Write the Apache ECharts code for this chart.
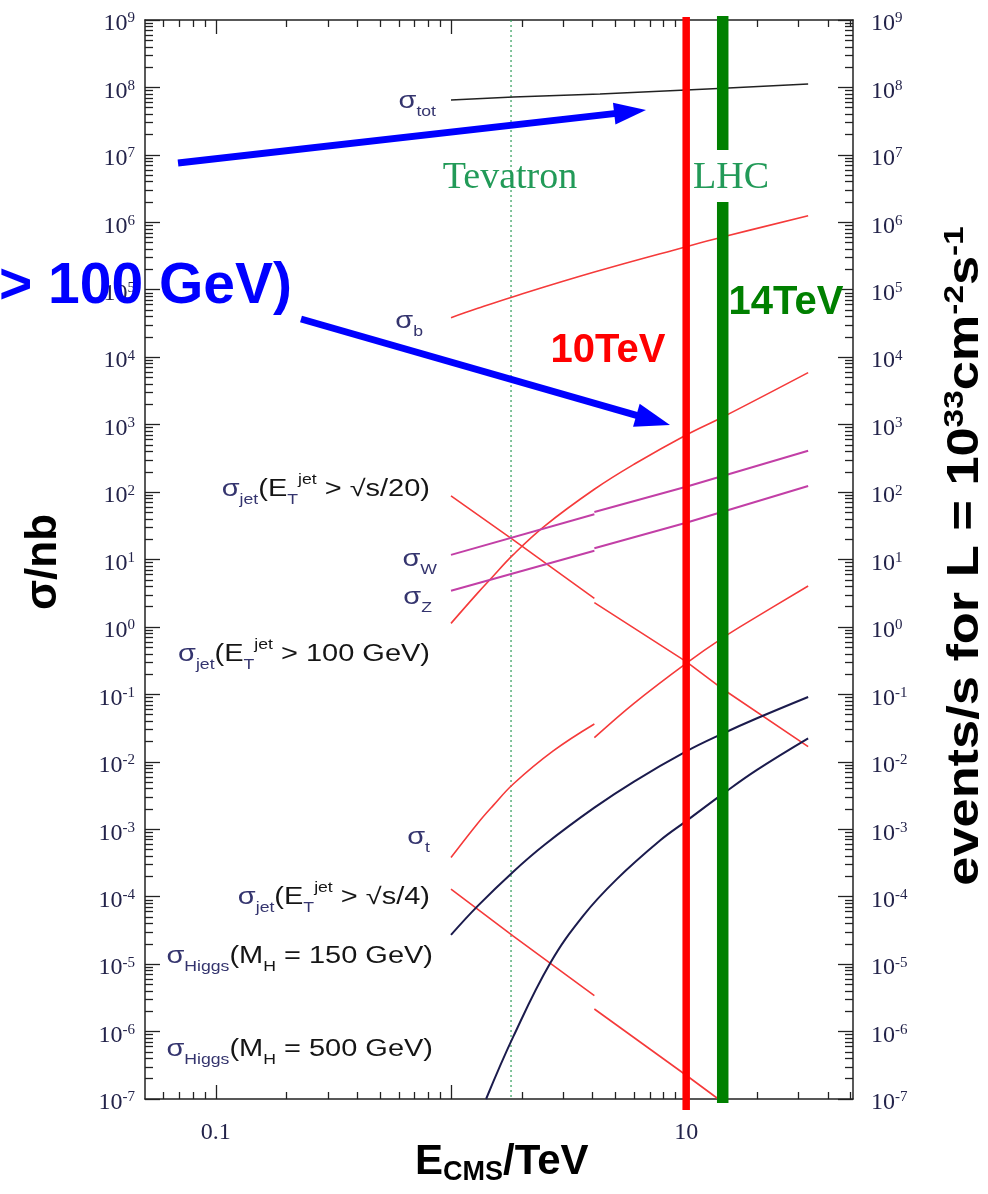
<!DOCTYPE html>
<html><head><meta charset="utf-8">
<script src="https://cdn.jsdelivr.net/npm/echarts@6/dist/echarts.min.js"></script>
<style>html,body{margin:0;padding:0;background:#fff}#c{width:988px;height:1194px}</style>
</head><body><div id="c"></div>
<script>
// ---- axis ranges / ticks ----
const X_MIN = 0.05, X_MAX = 51.2, Y_MIN = 1e-7, Y_MAX = 1e9;
const xMajorTicks = [0.1, 1, 10];
const xMinorTicks = [0.06,0.07,0.08,0.09,0.2,0.3,0.4,0.5,0.6,0.7,0.8,0.9,2,3,4,5,6,7,8,9,20,30,40,50];
const xTickLabels = [0.1, 10];
const yExponents = [-7,-6,-5,-4,-3,-2,-1,0,1,2,3,4,5,6,7,8,9];
const yMinorMultipliers = [2,3,4,5,6,7,8,9];
const E_TEVATRON = 1.8, E_10TEV = 10, E_LHC = 14.3;

// ---- curves: [E (TeV), sigma (nb)] ----
const sigmaTot      = [[1.0,6.5e7],[1.84,7.2e7],[4.3,8.0e7],[10,9.2e7],[14.4,9.7e7],[33,1.12e8]];
const sigmaB        = [[1.0,3.85e4],[1.3,5.3e4],[1.84,7.9e4],[4.07,1.83e5],[10,4.35e5],[14.4,6.1e5],[33,1.25e6]];
const sigmaJet100   = [[1.0,1.13],[1.3,3.2],[1.47,5.1],[1.84,11.8],[2.5,31.3],[4.07,110],[6,258],[10,702],[14.4,1310],[33,5900]];
const sigmaJet20_ppbar = [[1.0,88],[1.84,19.5],[4.07,2.66]];
const sigmaJet20_pp    = [[4.07,2.29],[10,0.306],[14.4,0.118],[33,0.0168]];
const sigmaW_ppbar  = [[1.0,11.7],[4.07,46.9]];
const sigmaW_pp     = [[4.07,50.7],[10,120],[14.4,175],[33,411]];
const sigmaZ_ppbar  = [[1.0,3.45],[4.07,13.5]];
const sigmaZ_pp     = [[4.07,14.7],[10,35],[33,123]];
const sigmaT_ppbar  = [[1.0,3.8e-4],[1.3,1.23e-3],[1.51,2.24e-3],[1.84,4.69e-3],[2.72,0.0145],[4.07,0.0364]];
const sigmaT_pp     = [[4.07,0.0228],[6,0.0738],[10,0.289],[14.4,0.70],[20,1.42],[33,4.05]];
const sigmaJet4_ppbar = [[1.0,1.29e-4],[1.84,2.6e-5],[4.07,3.4e-6]];
const sigmaJet4_pp    = [[4.07,2.16e-6],[10,2.25e-7],[13.7,1e-7]];
const sigmaH150     = [[1.0,2.71e-5],[1.3,7.3e-5],[1.84,2.35e-4],[2.5,5.89e-4],[4.07,2.09e-3],[6,5.1e-3],[10,0.01426],[14.4,0.0265],[20,0.0442],[33,0.0914]];
const sigmaH500     = [[1.41,1e-7],[1.84,8.4e-7],[2.64,1.03e-5],[3.66,5.28e-5],[5.07,1.82e-4],[7.74,6.8e-4],[10,1.32e-3],[14.4,3.4e-3],[20,7.6e-3],[33,0.0223]];

const RED = '#f53a3a', MAG = '#c23fa6', NAVY = '#1b1b4d', BLK = '#222222';
const curves = [
  [sigmaTot, BLK, 1.5, 0], [sigmaB, RED, 1.6, 0.4], [sigmaJet100, RED, 1.6, 0.4],
  [sigmaJet20_ppbar, RED, 1.6, 0], [sigmaJet20_pp, RED, 1.6, 0],
  [sigmaW_ppbar, MAG, 2, 0], [sigmaW_pp, MAG, 2, 0],
  [sigmaZ_ppbar, MAG, 2, 0], [sigmaZ_pp, MAG, 2, 0],
  [sigmaT_ppbar, RED, 1.6, 0.4], [sigmaT_pp, RED, 1.6, 0.4],
  [sigmaJet4_ppbar, RED, 1.6, 0], [sigmaJet4_pp, RED, 1.6, 0],
  [sigmaH150, NAVY, 2, 0.4], [sigmaH500, NAVY, 2, 0.4]
];

const yMajorTicks = yExponents.map(e => Math.pow(10, e));
const yMinorTicks = [];
yExponents.slice(0, -1).forEach(e => yMinorMultipliers.forEach(m => yMinorTicks.push(m * Math.pow(10, e))));

const AX = '#222222', LBL = '#23234a';
const tickLine = {color: AX, width: 1.3};
const yLabelRich = {
  b: {fontSize: 24, fontFamily: 'Liberation Serif', color: LBL, lineHeight: 26},
  e: {fontSize: 15, fontFamily: 'Liberation Serif', color: LBL, lineHeight: 15, verticalAlign: 'top'}
};
function yFmt(v) { return '{b|10}{e|' + Math.round(Math.log10(v)) + '}'; }

function xAxisDef(pos, major, withLabels, withLine) {
  return {
    type: 'log', min: X_MIN, max: X_MAX, position: pos, gridIndex: 0,
    axisLine: {show: withLine, lineStyle: {color: AX, width: 1.5}},
    axisTick: {show: true, inside: true, length: major ? 14 : 7, customValues: major ? xMajorTicks : xMinorTicks, lineStyle: tickLine},
    minorTick: {show: false}, splitLine: {show: false},
    axisLabel: withLabels ? {show: true, customValues: xTickLabels, margin: 22,
      formatter: v => (v < 1 ? v.toFixed(1) : String(Math.round(v))),
      fontFamily: 'Liberation Serif', fontSize: 24, color: LBL} : {show: false}
  };
}
function yAxisDef(pos, major, withLabels, withLine) {
  return {
    type: 'log', min: Y_MIN, max: Y_MAX, position: pos, gridIndex: 0,
    axisLine: {show: withLine, lineStyle: {color: AX, width: 1.5}},
    axisTick: {show: true, inside: true, length: major ? 15 : 8, customValues: major ? yMajorTicks : yMinorTicks, lineStyle: tickLine},
    minorTick: {show: false}, splitLine: {show: false},
    axisLabel: withLabels ? {show: true, customValues: yMajorTicks, margin: pos === 'left' ? 10 : 18,
      formatter: yFmt, rich: yLabelRich, padding: [8, 0, 0, 0]} : {show: false}
  };
}

const chart = echarts.init(document.getElementById('c'), null, {renderer: 'canvas'});
chart.setOption({
  animation: false,
  backgroundColor: '#ffffff',
  grid: {left: 145, right: 135, top: 20, bottom: 95, containLabel: false},
  xAxis: [xAxisDef('bottom', true, true, true), xAxisDef('bottom', false, false, false),
          xAxisDef('top', true, false, true), xAxisDef('top', false, false, false)],
  yAxis: [yAxisDef('left', true, true, true), yAxisDef('left', false, false, false),
          yAxisDef('right', true, true, true), yAxisDef('right', false, false, false)],
  series: curves.map(c => ({
    type: 'line', xAxisIndex: 0, yAxisIndex: 0, data: c[0], showSymbol: false, symbol: 'none',
    smooth: c[3], clip: true, lineStyle: {color: c[1], width: c[2]}, z: 3
  }))
});

// ---- annotations ----
const px = e => chart.convertToPixel({xAxisIndex: 0}, e);
const yTop = chart.convertToPixel({yAxisIndex: 0}, Y_MAX);
const yBot = chart.convertToPixel({yAxisIndex: 0}, Y_MIN);
const xTev = px(E_TEVATRON), x10 = px(E_10TEV), xLhc = px(E_LHC);

const SIG = '#34346e', TXT = '#151515';
const R = {
  s: {fontSize: 23, fontFamily: 'Liberation Sans', fill: SIG, lineHeight: 34},
  sb: {fontSize: 14, fontFamily: 'Liberation Sans', fill: SIG, lineHeight: 14, verticalAlign: 'bottom'},
  t: {fontSize: 23, fontFamily: 'Liberation Sans', fill: TXT, lineHeight: 34},
  tb: {fontSize: 14, fontFamily: 'Liberation Sans', fill: TXT, lineHeight: 14, verticalAlign: 'bottom'},
  sp: {fontSize: 14, fontFamily: 'Liberation Sans', fill: TXT, lineHeight: 14, verticalAlign: 'top'}
};
function lbl(right, cy, text) {
  return {type: 'text', x: right, y: cy, scaleX: 1.26, z: 10,
    style: {text: text, align: 'right', verticalAlign: 'middle', rich: R, font: '23px "Liberation Sans"'}};
}
function arrow(x1, y1, x2, y2, hl, hw) {
  const dx = x2 - x1, dy = y2 - y1, L = Math.hypot(dx, dy), ux = dx / L, uy = dy / L;
  const bx = x2 - ux * hl, by = y2 - uy * hl;
  return [
    {type: 'line', z: 20, shape: {x1: x1, y1: y1, x2: bx + ux * 2, y2: by + uy * 2}, style: {stroke: '#0000ff', lineWidth: 7}},
    {type: 'polygon', z: 20, shape: {points: [[x2, y2], [bx - uy * hw, by + ux * hw], [bx + uy * hw, by - ux * hw]]}, style: {fill: '#0000ff'}}
  ];
}
const graphics = [
  {type: 'line', z: 2, shape: {x1: xTev, y1: yTop, x2: xTev, y2: yBot}, style: {stroke: '#2e9e5a', lineWidth: 1.2, lineDash: [2, 3]}},
  {type: 'line', z: 15, shape: {x1: x10, y1: 17, x2: x10, y2: 1110}, style: {stroke: '#ff0000', lineWidth: 7.5}},
  {type: 'line', z: 15, shape: {x1: xLhc, y1: 16, x2: xLhc, y2: 150}, style: {stroke: '#008000', lineWidth: 11.5}},
  {type: 'line', z: 15, shape: {x1: xLhc, y1: 202, x2: xLhc, y2: 1103}, style: {stroke: '#008000', lineWidth: 11.5}},
  {type: 'text', x: 510, y: 178, z: 10, style: {text: 'Tevatron', align: 'center', verticalAlign: 'middle', font: '38px "Liberation Serif"', fill: '#229a58'}},
  {type: 'text', x: 731, y: 178, z: 10, style: {text: 'LHC', align: 'center', verticalAlign: 'middle', font: '38px "Liberation Serif"', fill: '#229a58'}},
  {type: 'text', x: 608, y: 351, z: 16, style: {text: '10TeV', align: 'center', verticalAlign: 'middle', font: 'bold 40px "Liberation Sans"', fill: '#ff0000'}},
  {type: 'text', x: 786, y: 303, z: 16, style: {text: '14TeV', align: 'center', verticalAlign: 'middle', font: 'bold 40px "Liberation Sans"', fill: '#008000'}},
  {type: 'text', x: 292, y: 287, z: 25, style: {text: '> 100 GeV)', align: 'right', verticalAlign: 'middle', font: 'bold 57px "Liberation Sans"', fill: '#0000ff'}},
  {type: 'text', x: 44, y: 562, rotation: Math.PI / 2, z: 10, style: {text: 'σ/nb', align: 'center', verticalAlign: 'middle', font: 'bold 44px "Liberation Sans"', fill: '#000'}},
  {type: 'text', x: 966, y: 556, rotation: Math.PI / 2, scaleX: 1.19, z: 10, style: {
    text: '{m|events/s for L = 10}{u|33}{m|cm}{u|-2}{m|s}{u|-1}', align: 'center', verticalAlign: 'middle',
    rich: {m: {fontSize: 44, fontWeight: 'bold', fontFamily: 'Liberation Sans', fill: '#000', lineHeight: 50},
           u: {fontSize: 28, fontWeight: 'bold', fontFamily: 'Liberation Sans', fill: '#000', lineHeight: 28, verticalAlign: 'top'}}}},
  {type: 'text', x: 415, y: 1162, z: 10, style: {
    text: '{m|E}{d|CMS}{m|/TeV}', align: 'left', verticalAlign: 'middle',
    rich: {m: {fontSize: 42, fontWeight: 'bold', fontFamily: 'Liberation Sans', fill: '#000', lineHeight: 48},
           d: {fontSize: 27, fontWeight: 'bold', fontFamily: 'Liberation Sans', fill: '#000', lineHeight: 27, verticalAlign: 'bottom'}}}},
  lbl(436, 102, '{s|σ}{sb|tot}'),
  lbl(423, 322, '{s|σ}{sb|b}'),
  lbl(430, 490, '{s|σ}{sb|jet}{t|(E}{sb|T}{sp|jet}{t| > √s/20)}'),
  lbl(437, 560, '{s|σ}{sb|W}'),
  lbl(432, 598, '{s|σ}{sb|Z}'),
  lbl(430, 655, '{s|σ}{sb|jet}{t|(E}{sb|T}{sp|jet}{t| > 100 GeV)}'),
  lbl(430, 838, '{s|σ}{sb|t}'),
  lbl(430, 898, '{s|σ}{sb|jet}{t|(E}{sb|T}{sp|jet}{t| > √s/4)}'),
  lbl(433, 957, '{s|σ}{sb|Higgs}{t|(M}{tb|H}{t| = 150 GeV)}'),
  lbl(433, 1050, '{s|σ}{sb|Higgs}{t|(M}{tb|H}{t| = 500 GeV)}')
].concat(arrow(178, 163, 646, 110, 32, 11), arrow(301, 319, 670, 425, 35, 12));

chart.setOption({graphic: graphics});
</script></body></html>
